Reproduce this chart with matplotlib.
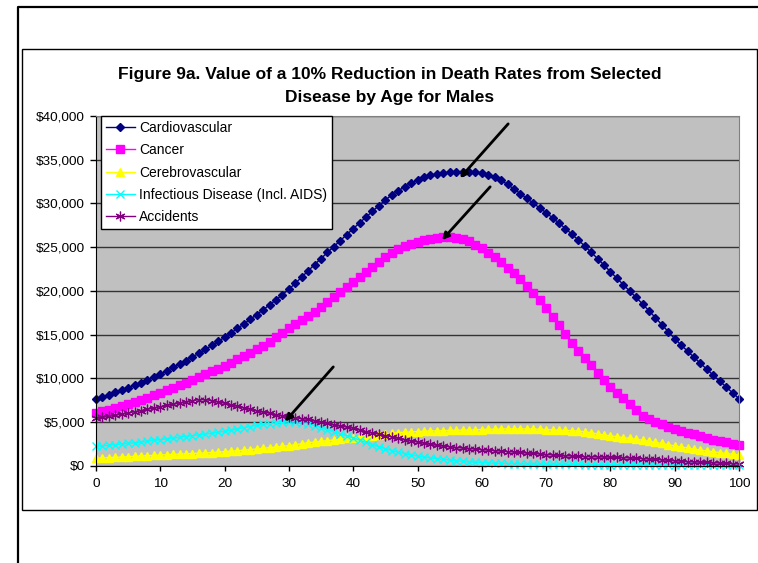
import matplotlib
matplotlib.use('Agg')
import matplotlib.pyplot as plt
from matplotlib.lines import Line2D
from matplotlib.patches import Rectangle
from matplotlib.ticker import FuncFormatter

plt.rcParams['font.family'] = ['Liberation Sans', 'DejaVu Sans']

# ages 0..100, one point per year
ages = list(range(0, 101))

cardio = [
    7600, 7860, 8120, 8390, 8660, 8940, 9220, 9510, 9810, 10140,
    10490, 10860, 11240, 11630, 12030, 12440, 12860, 13300, 13750, 14210,
    14690, 15190, 15700, 16220, 16750, 17290, 17840, 18400, 18970, 19570,
    20180, 20870, 21580, 22300, 23000, 23700, 24390, 25070, 25750, 26430,
    27110, 27780, 28440, 29100, 29750, 30400, 30950, 31450, 31900, 32310,
    32680, 32990, 33220, 33380, 33480, 33540, 33600, 33630, 33620, 33580,
    33500, 33300, 33000, 32640, 32170, 31650, 31120, 30580, 30030, 29480,
    28940, 28350, 27750, 27130, 26480, 25820, 25130, 24420, 23690, 22950,
    22190, 21450, 20710, 19970, 19240, 18500, 17720, 16930, 16130, 15330,
    14530, 13810, 13100, 12400, 11710, 11030, 10350, 9680, 9010, 8340,
    7670]

cancer = [
    5990, 6200, 6410, 6630, 6850, 7070, 7300, 7550, 7800, 8070,
    8350, 8630, 8920, 9210, 9510, 9820, 10130, 10450, 10780, 11110,
    11440, 11790, 12150, 12520, 12900, 13300, 13720, 14180, 14680, 15190,
    15720, 16170, 16610, 17080, 17620, 18190, 18760, 19330, 19900, 20480,
    21050, 21630, 22210, 22780, 23350, 23910, 24370, 24770, 25100, 25380,
    25630, 25830, 25980, 26080, 26130, 26130, 26050, 25900, 25650, 25300,
    24870, 24380, 23850, 23270, 22660, 22010, 21320, 20580, 19780, 18920,
    18000, 17050, 16080, 15110, 14080, 13080, 12270, 11480, 10620, 9790,
    9050, 8340, 7720, 7100, 6380, 5640, 5300, 5030, 4770, 4460,
    4180, 3980, 3790, 3600, 3380, 3160, 2950, 2800, 2660, 2510,
    2370]

cerebro = [
    850, 885, 920, 955, 990, 1030, 1070, 1105, 1145, 1180,
    1220, 1255, 1290, 1325, 1360, 1395, 1430, 1465, 1500, 1550,
    1600, 1660, 1720, 1780, 1850, 1920, 1990, 2060, 2140, 2210,
    2290, 2400, 2510, 2630, 2710, 2790, 2870, 2950, 3040, 3120,
    3200, 3290, 3370, 3450, 3530, 3610, 3700, 3780, 3820, 3860,
    3900, 3940, 3970, 3990, 4010, 4030, 4050, 4065, 4080, 4110,
    4140, 4160, 4180, 4200, 4210, 4210, 4210, 4200, 4200, 4170,
    4130, 4090, 4060, 4030, 4000, 3970, 3880, 3770, 3640, 3510,
    3420, 3320, 3220, 3120, 3020, 2910, 2790, 2670, 2540, 2400,
    2260, 2140, 2020, 1900, 1790, 1680, 1590, 1500, 1400, 1310,
    1220]

infect = [
    2200, 2270, 2340, 2410, 2480, 2550, 2630, 2710, 2800, 2890,
    2980, 3070, 3160, 3250, 3340, 3430, 3530, 3630, 3730, 3830,
    3930, 4070, 4210, 4350, 4480, 4610, 4720, 4820, 4900, 4960,
    5000, 4980, 4920, 4800, 4580, 4350, 4110, 3870, 3640, 3420,
    3180, 2920, 2660, 2420, 2170, 1940, 1730, 1540, 1380, 1240,
    1110, 1000, 900, 810, 730, 650, 580, 510, 450, 400,
    360, 320, 290, 270, 250, 230, 210, 200, 190, 180,
    170, 160, 155, 150, 145, 140, 135, 130, 125, 120,
    115, 110, 105, 100, 95, 90, 85, 80, 76, 72,
    68, 65, 62, 59, 56, 53, 50, 47, 44, 42,
    40]

accid = [
    5400, 5520, 5640, 5760, 5900, 6040, 6170, 6310, 6450, 6600,
    6750, 6890, 7030, 7170, 7310, 7440, 7560, 7550, 7450, 7300,
    7140, 6970, 6800, 6630, 6460, 6290, 6140, 6000, 5850, 5710,
    5570, 5480, 5390, 5290, 5150, 5000, 4830, 4660, 4540, 4420,
    4300, 4100, 3900, 3750, 3600, 3440, 3290, 3130, 2990, 2850,
    2710, 2580, 2440, 2330, 2240, 2160, 2080, 2020, 1960, 1900,
    1840, 1780, 1720, 1670, 1620, 1560, 1510, 1450, 1400, 1340,
    1280, 1220, 1180, 1140, 1100, 1060, 1030, 1020, 1000, 990,
    970, 960, 920, 880, 840, 800, 760, 720, 670, 610,
    560, 510, 460, 430, 400, 370, 340, 300, 270, 230,
    200]

series_names = ['Cardiovascular', 'Cancer', 'Cerebrovascular',
                'Infectious Disease (Incl. AIDS)', 'Accidents']

# arrows: (tail age, tail value, head age, head value)
arrows = [
    (64.1, 39100, 56.6, 32900),
    (61.3, 31900, 53.8, 25800),
    (36.9, 11300, 29.4, 5050),
]

title_lines = ['Figure 9a. Value of a 10% Reduction in Death Rates from Selected',
               'Disease by Age for Males']


def money(v, pos):
    return '${:,.0f}'.format(v)


def plot_chart():
    fig = plt.figure(figsize=(7.58, 5.63), dpi=100)
    W, H = 758.0, 563.0

    # outer frame (only top and left visible) and the chart box
    fig.add_artist(Line2D([17.5 / W, 17.5 / W, 1.0], [0.0, 1 - 6.5 / H, 1 - 6.5 / H],
                          color='black', lw=1.6, transform=fig.transFigure))
    fig.add_artist(Rectangle((22 / W, 1 - 510 / H), 735 / W, 461 / H, fill=False,
                             edgecolor='black', lw=1.0, transform=fig.transFigure))

    ax = fig.add_axes([96 / W, 1 - 465.7 / H, 643 / W, 349.7 / H])
    ax.set_facecolor('#C0C0C0')

    styles = [
        dict(color='#000080', marker='D', ms=4.4),
        dict(color='#FF00FF', marker='s', ms=5.2),
        dict(color='#FFFF00', marker='^', ms=6.0),
        dict(color='#00FFFF', marker='x', ms=5.5, mew=1.0),
        dict(color='#800080', marker=(6, 2, 0), ms=7.0, mew=0.9),
    ]
    all_series = [cardio, cancer, cerebro, infect, accid]

    for vals, name, st in zip(all_series, series_names, styles):
        ax.plot(ages, vals, label=name, lw=1.0, clip_on=False,
                markeredgecolor=st['color'], **st)

    for x0, y0, x1, y1 in arrows:
        ax.annotate('', xy=(x1, y1), xytext=(x0, y0),
                    arrowprops=dict(arrowstyle='-|>', color='black', lw=2.0,
                                    mutation_scale=10, shrinkA=0, shrinkB=0),
                    zorder=5, annotation_clip=False)

    ax.set_xlim(0, 100)
    ax.set_ylim(0, 40000)
    ax.set_xticks(range(0, 101, 10))
    ax.set_yticks(range(0, 40001, 5000))
    ax.yaxis.set_major_formatter(FuncFormatter(money))
    ax.grid(True, axis='y', color='#333333', lw=1.0)
    ax.set_axisbelow(True)

    ax.tick_params(axis='y', direction='out', length=4, width=1, labelsize=9.7, pad=4)
    ax.tick_params(axis='x', direction='out', length=3.5, width=1, labelsize=9.7, pad=5)
    ax.spines['left'].set_color('black')
    ax.spines['bottom'].set_color('black')
    ax.spines['top'].set_color('#808080')
    ax.spines['right'].set_color('#808080')

    leg = ax.legend(loc='upper left', bbox_to_anchor=(0.0073, 1.0), borderaxespad=0,
                    fontsize=10, fancybox=False, framealpha=1, edgecolor='black',
                    handlelength=2.1, handletextpad=0.3, labelspacing=0.6,
                    borderpad=0.35, markerscale=1.0)
    leg.get_frame().set_linewidth(1.0)

    # two line title, bold
    fig.text(390 / W, 1 - 79 / H, title_lines[0], ha='center', va='baseline',
             fontsize=12.5, fontweight='bold')
    fig.text(390 / W, 1 - 101.7 / H, title_lines[1], ha='center', va='baseline',
             fontsize=12.5, fontweight='bold')

    plt.savefig('out.png', dpi=100)
    plt.close()


if __name__ == "__main__":
    plot_chart()
